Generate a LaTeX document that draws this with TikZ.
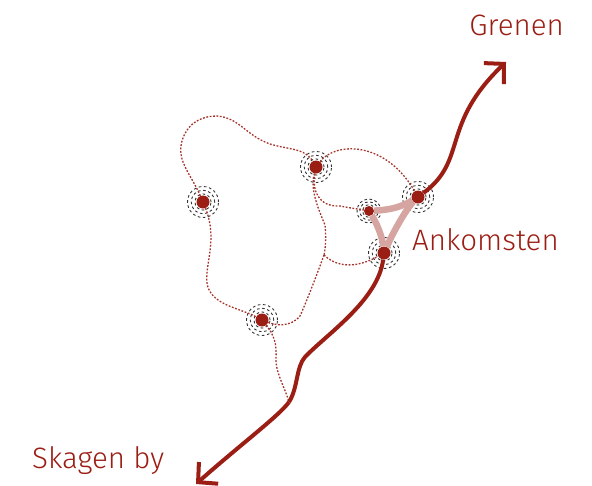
\documentclass[tikz,border=0pt]{standalone}
\usepackage{fontspec}
\setmainfont{Fira Sans Light}
\usetikzlibrary{arrows.meta}
\definecolor{route}{RGB}{155,30,20}
\tikzstyle{hub} = [circle, fill=route, inner sep=0pt, minimum size=13pt]
\tikzstyle{halo} = [circle, draw=black!80, dash pattern=on 2.6pt off 2.6pt, line width=0.9pt, inner sep=0pt]
\tikzstyle{path} = [draw=route!90, dash pattern=on 1.8pt off 1.6pt, line width=1.3pt]
\tikzstyle{link} = [draw=route!40, line width=6.5pt]
\tikzstyle{main} = [draw=route, line width=4pt]
\tikzstyle{place} = [text=route, font=\fontsize{29.5}{30}\selectfont, inner sep=0pt]
\newcommand{\halos}[2]{
	\node[halo, minimum size=#2*0.52] at (#1) {};
	\node[halo, minimum size=#2*0.76] at (#1) {};
	\node[halo, minimum size=#2] at (#1) {};
}
\begin{document}
\begin{tikzpicture}[x=1pt, y=-1pt]
	\useasboundingbox (0,0) rectangle (592,485);
	\node[hub] (west) at (203,202) {};
	\node[hub] (north) at (316,167) {};
	\node[hub, minimum size=10pt] (mid) at (369,211) {};
	\node[hub] (east) at (418,197) {};
	\node[hub] (ank) at (384,253) {};
	\node[hub] (south) at (262,320) {};
	\coordinate (grenen) at (506,62);
	\coordinate (skagen) at (196,484);
	\coordinate (joint) at (289,402);
	\coordinate (fork) at (324,255);
	\node[place, anchor=west] (ankt) at (412,240) {Ankomsten};
	\node[place, anchor=east] (grt) at (564,25) {Grenen};
	\node[place, anchor=west] (skt) at (32,461) {Skagen by};
	%% Halos
	\halos{west}{31pt} \halos{north}{31pt} \halos{mid}{24pt} \halos{east}{31pt} \halos{ank}{31pt} \halos{south}{31pt}
	%% Small roads
	\path[path] (west) .. controls (190,172) and (175,160) .. (183,138) .. controls (190,120) and (205,116) .. (217,116) .. controls (240,118) and (245,135) .. (270,144) .. controls (290,150) and (305,148) .. (north);
	\path[path] (north) .. controls (335,142) and (385,140) .. (east);
	\path[path] (north) .. controls (312,190) and (318,207) .. (340,206) .. controls (350,208) and (358,209) .. (mid);
	\path[path] (north) .. controls (310,190) and (318,208) .. (325,225) .. controls (326,235) and (326,245) .. (fork);
	\path[path] (fork) .. controls (315,280) and (305,305) .. (300,316) .. controls (290,328) and (275,325) .. (south);
	\path[path] (fork) .. controls (332,263) and (350,272) .. (ank);
	\path[path] (west) .. controls (218,240) and (205,262) .. (207,283) .. controls (210,305) and (240,308) .. (south);
	\path[path] (south) .. controls (278,340) and (276,350) .. (276,362) .. controls (277,375) and (285,388) .. (joint);
	%% Links
	\path[link] (mid) .. controls (385,210) and (398,209) .. (east);
	\path[link] (mid) .. controls (376,222) and (382,235) .. (ank);
	\path[link] (east) .. controls (408,207) and (395,228) .. (ank);
	%% Main road
	\path[main, -{Straight Barb[length=14pt, width=29pt]}] (east) .. controls (468,160) and (440,125) .. (grenen);
	\path[main] (ank) .. controls (378,300) and (327,334) .. (305,357) .. controls (296,367) and (298,388) .. (joint);
	\path[main, -{Straight Barb[length=14pt, width=29pt]}] (joint) .. controls (280,415) and (240,445) .. (skagen);
\end{tikzpicture}
\end{document}
